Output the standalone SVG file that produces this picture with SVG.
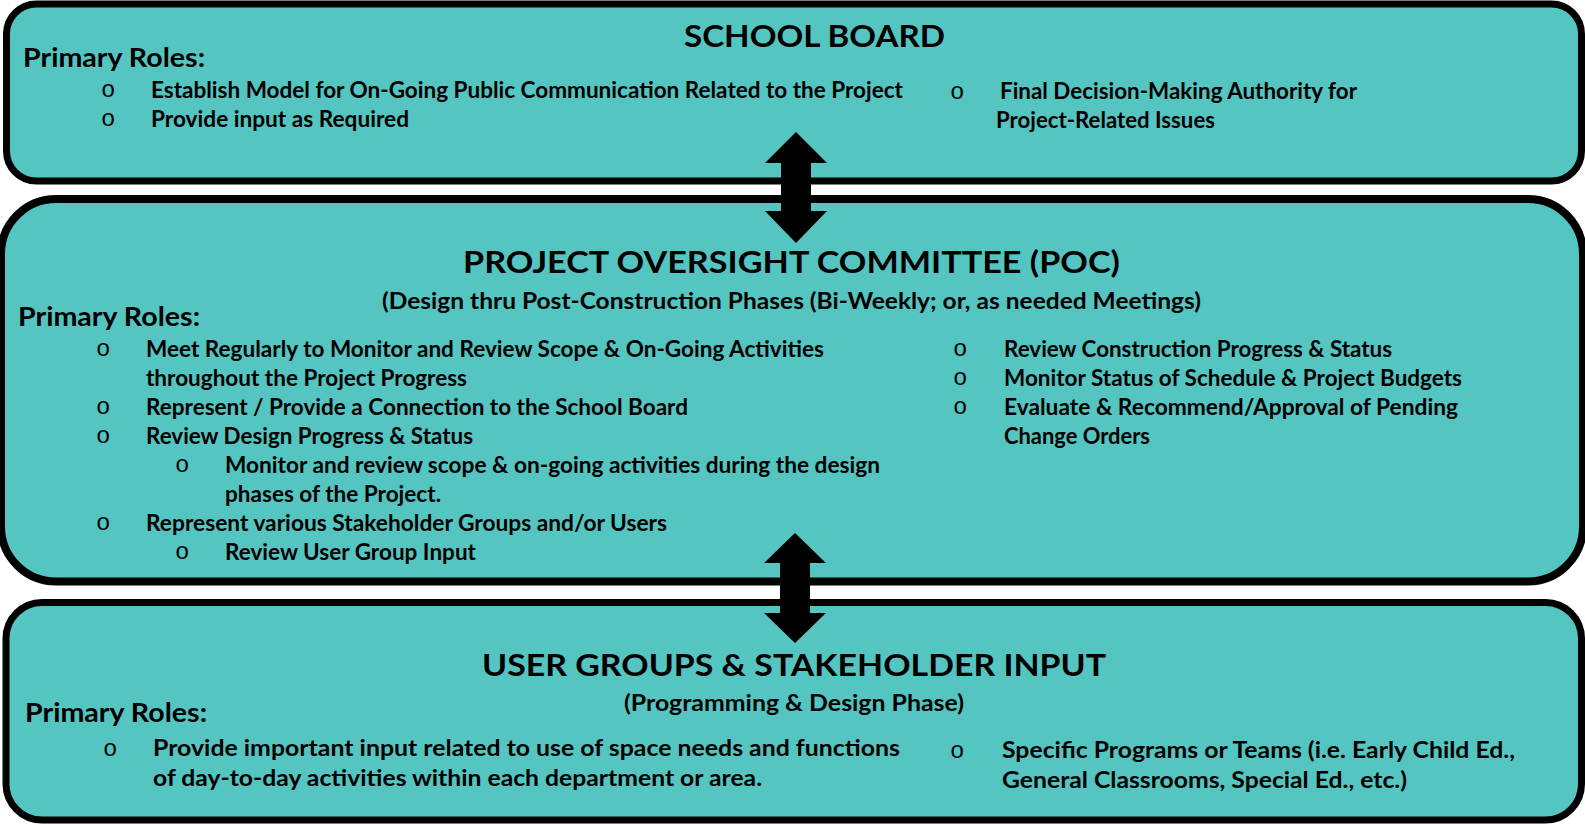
<svg xmlns="http://www.w3.org/2000/svg" width="1585" height="825" viewBox="0 0 1585 825">
<style>
.box{fill:#54C5C0;stroke:#000;}
.t{font-family:Lato,"Liberation Sans",sans-serif;font-weight:bold;fill:#000;}
.h{font-size:31px;}
.pr{font-size:27px;}
.b{font-size:23px;}
.o{font-family:"Liberation Mono","Courier New",monospace;font-size:24px;fill:#000;}
.arr{fill:#000;}
</style>
<rect width="1585" height="825" fill="#fff"/>
<g id="school-board">
<rect class="box" x="6.5" y="4" width="1575" height="177" rx="30" stroke-width="7"/>
<text class="t h" x="684" y="47" textLength="261" lengthAdjust="spacingAndGlyphs">SCHOOL BOARD</text>
<text class="t pr" x="23" y="67" textLength="182" lengthAdjust="spacingAndGlyphs">Primary Roles:</text>
<text class="o" x="101" y="97">o</text>
<text class="t b" x="151" y="98" textLength="752" lengthAdjust="spacingAndGlyphs">Establish Model for On-Going Public Communication Related to the Project</text>
<text class="o" x="101" y="126">o</text>
<text class="t b" x="151" y="127" textLength="258" lengthAdjust="spacingAndGlyphs">Provide input as Required</text>
<text class="o" x="950" y="99">o</text>
<text class="t b" x="1000" y="99" textLength="357" lengthAdjust="spacingAndGlyphs">Final Decision-Making Authority for</text>
<text class="t b" x="996" y="128" textLength="219" lengthAdjust="spacingAndGlyphs">Project-Related Issues</text>
</g>
<g id="poc">
<rect class="box" x="1" y="199" width="1582" height="382.5" rx="55" stroke-width="8"/>
<text class="t h" x="463" y="273" textLength="657" lengthAdjust="spacingAndGlyphs">PROJECT OVERSIGHT COMMITTEE (POC)</text>
<text class="t b" x="382" y="309" textLength="819" lengthAdjust="spacingAndGlyphs">(Design thru Post-Construction Phases (Bi-Weekly; or, as needed Meetings)</text>
<text class="t pr" x="18" y="326" textLength="182" lengthAdjust="spacingAndGlyphs">Primary Roles:</text>
<text class="o" x="96" y="356">o</text>
<text class="t b" x="146" y="357" textLength="678" lengthAdjust="spacingAndGlyphs">Meet Regularly to Monitor and Review Scope &amp; On-Going Activities</text>
<text class="t b" x="146" y="386" textLength="321" lengthAdjust="spacingAndGlyphs">throughout the Project Progress</text>
<text class="o" x="96" y="414">o</text>
<text class="t b" x="146" y="415" textLength="542" lengthAdjust="spacingAndGlyphs">Represent / Provide a Connection to the School Board</text>
<text class="o" x="96" y="443">o</text>
<text class="t b" x="146" y="444" textLength="327" lengthAdjust="spacingAndGlyphs">Review Design Progress &amp; Status</text>
<text class="o" x="175" y="472">o</text>
<text class="t b" x="225" y="473" textLength="655" lengthAdjust="spacingAndGlyphs">Monitor and review scope &amp; on-going activities during the design</text>
<text class="t b" x="225" y="502" textLength="216" lengthAdjust="spacingAndGlyphs">phases of the Project.</text>
<text class="o" x="96" y="530">o</text>
<text class="t b" x="146" y="531" textLength="521" lengthAdjust="spacingAndGlyphs">Represent various Stakeholder Groups and/or Users</text>
<text class="o" x="175" y="559">o</text>
<text class="t b" x="225" y="560" textLength="251" lengthAdjust="spacingAndGlyphs">Review User Group Input</text>
<text class="o" x="953" y="356">o</text>
<text class="t b" x="1004" y="357" textLength="388" lengthAdjust="spacingAndGlyphs">Review Construction Progress &amp; Status</text>
<text class="o" x="953" y="385">o</text>
<text class="t b" x="1004" y="386" textLength="458" lengthAdjust="spacingAndGlyphs">Monitor Status of Schedule &amp; Project Budgets</text>
<text class="o" x="953" y="414">o</text>
<text class="t b" x="1004" y="415" textLength="454" lengthAdjust="spacingAndGlyphs">Evaluate &amp; Recommend/Approval of Pending</text>
<text class="t b" x="1004" y="444" textLength="146" lengthAdjust="spacingAndGlyphs">Change Orders</text>
</g>
<g id="user-groups">
<rect class="box" x="6" y="602.5" width="1575.5" height="217.5" rx="36" stroke-width="7"/>
<text class="t h" x="482" y="676" textLength="624" lengthAdjust="spacingAndGlyphs">USER GROUPS &amp; STAKEHOLDER INPUT</text>
<text class="t b" x="624" y="711" textLength="340" lengthAdjust="spacingAndGlyphs">(Programming &amp; Design Phase)</text>
<text class="t pr" x="25" y="722" textLength="182" lengthAdjust="spacingAndGlyphs">Primary Roles:</text>
<text class="o" x="103" y="756">o</text>
<text class="t b" x="153" y="756" textLength="747" lengthAdjust="spacingAndGlyphs">Provide important input related to use of space needs and functions</text>
<text class="t b" x="153" y="786" textLength="609" lengthAdjust="spacingAndGlyphs">of day-to-day activities within each department or area.</text>
<text class="o" x="950" y="758">o</text>
<text class="t b" x="1002" y="758" textLength="513" lengthAdjust="spacingAndGlyphs">Specific Programs or Teams (i.e. Early Child Ed.,</text>
<text class="t b" x="1002" y="788" textLength="405" lengthAdjust="spacingAndGlyphs">General Classrooms, Special Ed., etc.)</text>
</g>
<g id="connectors">
<polygon class="arr" points="796,132 827,163 811,163 811,211 827,211 796,243 765,211 781,211 781,163 765,163"/>
<polygon class="arr" points="795,533 826,563 810,563 810,613 826,613 795,643 764,613 780,613 780,563 764,563"/>
</g>
</svg>
